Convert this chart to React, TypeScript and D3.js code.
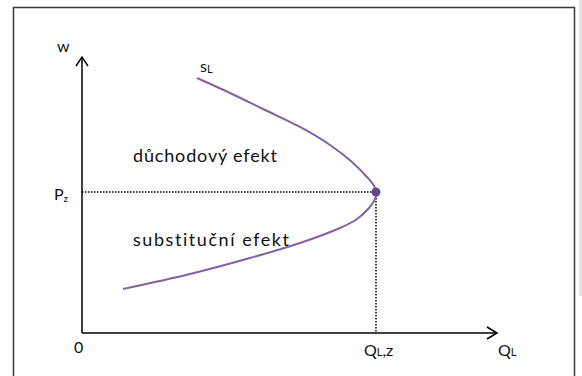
import React from "react";
import * as d3 from "d3";

// Labour supply curve (backward bending), data units 0..100
const curveQ = [27.71, 35.66, 44.1, 52.53, 59.76, 65.06, 68.67, 70.36, 70.84, 70.6, 69.16, 66.27, 62.17, 52.53, 40.48, 26.02, 9.88];
const curveW = [92.39, 86.96, 80.8, 74.64, 68.12, 61.96, 56.52, 53.26, 51.09, 48.55, 45.29, 41.3, 38.04, 32.61, 27.17, 21.38, 15.94];
const pointQ = [70.84];
const pointW = [51.09];
const textUpper = "důchodový efekt";
const textLower = "substituční efekt";

export default function App() {
  const W = 582, H = 376;
  const x = d3.scaleLinear().domain([0, 100]).range([82, 497]);
  const y = d3.scaleLinear().domain([0, 100]).range([333, 57]);
  const pts: [number, number][] = curveQ.map((q, i) => [q, curveW[i]]);
  const line = d3
    .line<[number, number]>()
    .x((d) => x(d[0]))
    .y((d) => y(d[1]))
    .curve(d3.curveCatmullRom.alpha(0.5));
  const px = x(pointQ[0]);
  const py = y(pointW[0]);
  const font = "Lato, Open Sans, sans-serif";
  const fs = 16;
  const x0 = x(0), y0 = y(0);
  const xEnd = x(100), yEnd = y(100);
  return (
    <svg
      width={W}
      height={H}
      style={{ position: "absolute", left: 0, top: 0, background: "#fff", fontVariantLigatures: "none" }}
      fontFamily={font}
      fontSize={fs}
    >
      <rect x={0} y={0} width={W} height={H} fill="#fff" />
      <rect x={579} y={0} width={3} height={296} fill="#e6e6e6" />
      <rect x={13.5} y={7.5} width={561} height={380} fill="none" stroke="#3a3a3a" strokeWidth={1.5} />
      {/* axes */}
      <line x1={x0} y1={y0} x2={x0} y2={yEnd} stroke="#000" strokeWidth={1.5} />
      <polyline
        points={`${x0 - 6},${yEnd + 9} ${x0},${yEnd} ${x0 + 6},${yEnd + 9}`}
        fill="none"
        stroke="#000"
        strokeWidth={1.5}
      />
      <line x1={x0} y1={y0} x2={xEnd} y2={y0} stroke="#000" strokeWidth={1.5} />
      <polyline
        points={`${xEnd - 10},${y0 - 6} ${xEnd},${y0} ${xEnd - 10},${y0 + 6}`}
        fill="none"
        stroke="#000"
        strokeWidth={1.5}
      />
      {/* dotted guides */}
      <line x1={x0} y1={py} x2={px} y2={py} stroke="#000" strokeWidth={1.5} strokeDasharray="1.5,1.5" />
      <line x1={px} y1={py} x2={px} y2={y0} stroke="#000" strokeWidth={1.5} strokeDasharray="1.5,1.5" />
      {/* curve */}
      <path d={line(pts) || ""} fill="none" stroke="#8064a2" strokeWidth={2} />
      <circle cx={px} cy={py} r={4.5} fill="#5f4a87" />
      {/* labels */}
      <text x={57} y={52} fill="#111">w</text>
      <text x={200} y={72} fill="#111">
        s<tspan fontSize={11} dy={1}>L</tspan>
      </text>
      <text x={133} y={162} fill="#111" fontSize={18} textLength={144} lengthAdjust="spacing">{textUpper}</text>
      <text x={133} y={246} fill="#111" fontSize={18} textLength={156} lengthAdjust="spacing">{textLower}</text>
      <text x={54} y={200} fill="#111">
        P<tspan fontSize={10} dy={2}>z</tspan>
      </text>
      <text x={74} y={353} fill="#111">0</text>
      <text x={364} y={356} fill="#111">
        Q<tspan fontSize={11}>L</tspan><tspan fontSize={16}>,z</tspan>
      </text>
      <text x={498} y={356} fill="#111">
        Q<tspan fontSize={11}>L</tspan>
      </text>
    </svg>
  );
}
